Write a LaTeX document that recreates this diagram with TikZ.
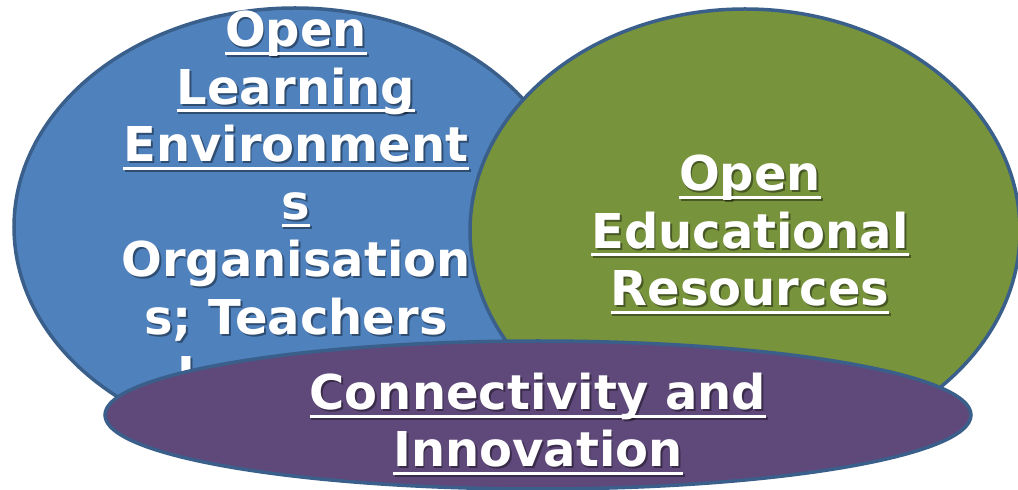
\documentclass[tikz,border=0pt]{standalone}
\usepackage{fontspec}
\setmainfont{DejaVu Sans}
\usetikzlibrary{shapes.geometric}
\definecolor{oblue}{HTML}{4F81BD}
\definecolor{ogreen}{HTML}{77933C}
\definecolor{opurple}{HTML}{5F497A}
\definecolor{oedge}{HTML}{3A5F8B}
\tikzset{
  venn/.style={ellipse, draw=oedge, line width=3.5pt, inner sep=0pt},
  txt/.style={text=white, font=\bfseries\fontsize{48}{57.5}\selectfont, inner sep=0pt, anchor=base},
  shd/.style={txt, text=black, text opacity=0.4},
  ulw/.style={draw=white, line width=3pt},
  uls/.style={draw=black, draw opacity=0.4, line width=3pt},
}
\newcommand\lbl[4]{%
  \node[shd] (#1s) at ({#2+1.8},{490-#3-1.8}) {#4};
  \node[txt] (#1) at (#2,{490-#3}) {#4};}
\newcommand\ulbl[4]{%
  \node[shd] (#1s) at ({#2+1.8},{490-#3-1.8}) {#4};
  \path[uls] ([yshift=-6.5pt]#1s.base west) -- ([yshift=-6.5pt]#1s.base east);
  \node[txt] (#1) at (#2,{490-#3}) {#4};
  \path[ulw] ([yshift=-6.5pt]#1.base west) -- ([yshift=-6.5pt]#1.base east);}
\begin{document}
\begin{tikzpicture}[x=1pt,y=1pt]
\useasboundingbox (0,0) rectangle (1018,490);
% blue
\node[venn, fill=oblue, minimum width=562pt, minimum height=438pt] (loe) at (295,263) {};
\ulbl{b1}{296}{47}{Open}
\ulbl{b2}{296}{104.5}{Learning}
\ulbl{b3}{296}{162}{Environment}
\ulbl{b4}{296}{219.5}{s}
\lbl{b5}{296}{277}{Organisation}
\lbl{b6}{296}{334.5}{s; Teachers}
\node[shd, anchor=base west] (b7s) at (178.8,{490-392-1.8}) {L};
\node[txt, anchor=base west] (b7) at (177,{490-392}) {L};
% green
\node[venn, fill=ogreen, minimum width=550pt, minimum height=444pt] (oer) at (745,259) {};
\ulbl{g1}{750}{191}{Open}
\ulbl{g2}{750}{248.5}{Educational}
\ulbl{g3}{750}{306}{Resources}
% purple
\node[venn, fill=opurple, minimum width=866pt, minimum height=148pt] (ci) at (538,75) {};
\ulbl{p1}{538}{410}{Connectivity and}
\ulbl{p2}{538}{467}{Innovation}
\end{tikzpicture}
\end{document}
